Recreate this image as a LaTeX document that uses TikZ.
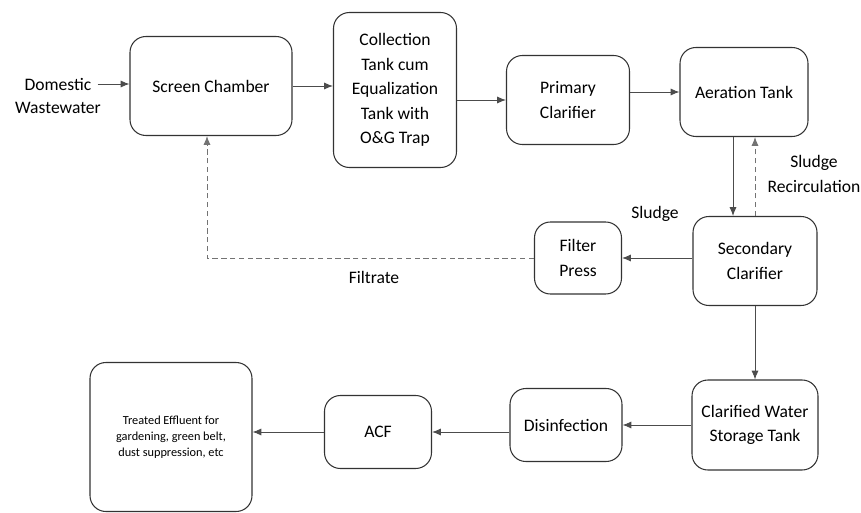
\documentclass[tikz,border=0pt]{standalone}
\usepackage{fontspec}
\setmainfont{Carlito}
\usetikzlibrary{arrows.meta, positioning}

\begin{document}
\begin{tikzpicture}[x=0.02cm, y=-0.02cm,
        box/.style={draw=black!80, line width=0.6pt, rounded corners=9pt, align=center, font=\fontsize{10}{14}\selectfont},
        flow/.style={-{Latex[length=5pt,width=4pt]}, draw=black!70, line width=0.5pt},
        back/.style={flow, densely dashed, draw=black!55},
        lbl/.style={align=center, font=\fontsize{10}{14}\selectfont}]
            \useasboundingbox (0,0) rectangle (861,513);

            \node[box, minimum width=3.24cm, minimum height=1.98cm] (screen) at (211,86){Screen Chamber};
            \node[box, minimum width=2.46cm, minimum height=3.1cm] (coll) at (395,90){Collection\\Tank cum\\Equalization\\Tank with\\O\&G Trap};
            \node[box, minimum width=2.46cm, minimum height=1.78cm] (prim) at (568,100){Primary\\Clarifier};
            \node[box, minimum width=2.56cm, minimum height=1.78cm] (aer) at (744,92){Aeration Tank};
            \node[box, minimum width=2.48cm, minimum height=1.78cm] (sec) at (755,261){Secondary\\Clarifier};
            \node[box, minimum width=1.74cm, minimum height=1.44cm] (filt) at (578,258){Filter\\Press};
            \node[box, minimum width=2.52cm, minimum height=1.8cm] (clar) at (755,425){Clarified Water\\Storage Tank};
            \node[box, minimum width=2.24cm, minimum height=1.46cm] (dis) at (566,425){Disinfection};
            \node[box, minimum width=2.14cm, minimum height=1.46cm] (acf) at (378,432){ACF};
            \node[box, minimum width=3.24cm, minimum height=2.98cm, font=\fontsize{7}{9}\selectfont] (treat) at (171,437){Treated Effluent for\\gardening, green belt,\\dust suppression, etc};

            \node[lbl] (dom) at (58,84){Domestic};
            \node[lbl, below=0pt of dom] (ww){Wastewater};
            \node[lbl] (recirc) at (814,174){Sludge\\Recirculation};
            \node[lbl] (sludge) at (655,214){Sludge};
            \node[lbl] (filtrate) at (374,277){Filtrate};

            \draw[flow] (dom) -- (screen.west |- dom);
            \draw[flow] (screen.east) -- (screen.east -| coll.west);
            \draw[flow] (coll.east |- prim) -- (prim.west);
            \draw[flow] (prim.east |- aer) -- (aer.west);
            \draw[flow] ([xshift=-0.22cm]aer.south) -- ([xshift=-0.22cm]aer.south |- sec.north);
            \draw[back] (sec.north) -- (sec.north |- aer.south);
            \draw[flow] (sec.west |- filt) -- (filt.east);
            \draw[back] (filt.west) -| ([xshift=-0.08cm]screen.south);
            \draw[flow] (sec.south) -- (clar.north);
            \draw[flow] (clar.west) -- (dis.east);
            \draw[flow] (dis.west |- acf) -- (acf.east);
            \draw[flow] (acf.west) -- (acf.west -| treat.east);

      \end{tikzpicture}
\end{document}
